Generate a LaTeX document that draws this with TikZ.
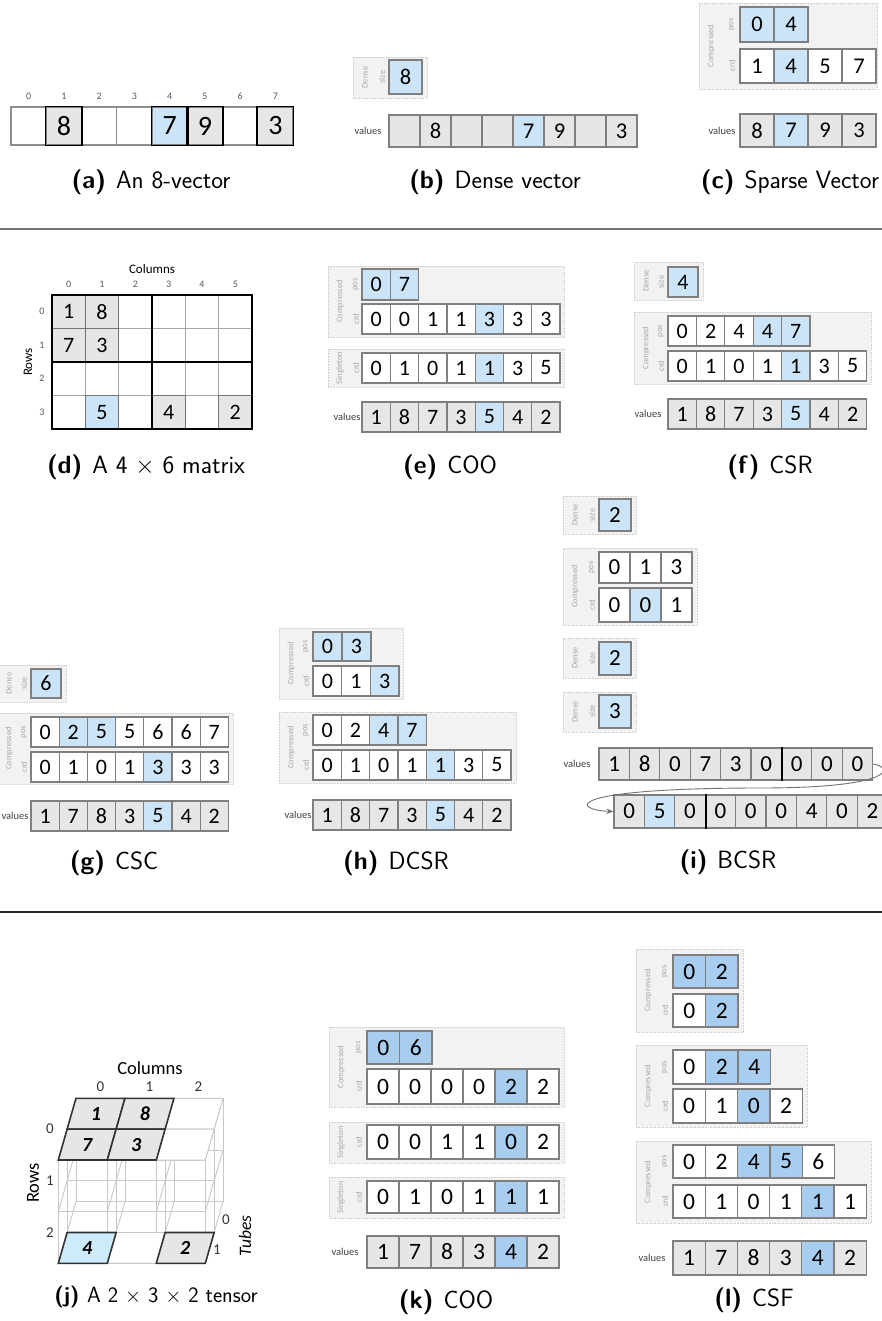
\documentclass[tikz,border=0pt]{standalone}
\usepackage{fontspec}
\setmainfont{Carlito}
\usepackage{tikz}
\usetikzlibrary{arrows.meta,calc}
\definecolor{cellfill}{HTML}{E6E6E6}
\definecolor{cellline}{HTML}{7F7F7F}
\definecolor{hilite}{HTML}{CCE4F7}
\definecolor{hilitedeep}{HTML}{A9CDEE}
\definecolor{tenblue}{HTML}{CDEBFA}
\definecolor{lvlfill}{HTML}{F2F2F2}
\definecolor{lvlline}{HTML}{CFCFCF}
\definecolor{lbl}{HTML}{A8A8A8}
\definecolor{wire}{HTML}{C8C8C8}
\newcommand{\csz}{21}
\tikzset{
  cellbase/.style={draw=cellline,line width=1.3pt,inner sep=0pt,
    font=\fontsize{\csz}{\csz}\selectfont},
  cz/.style={cellbase,fill=white},
  cg/.style={cellbase,fill=cellfill},
  cb/.style={cellbase,fill=hilite},
  cB/.style={cellbase,fill=hilitedeep},
  az/.style={cellbase,fill=white,draw=black!45},
  ag/.style={cellbase,fill=cellfill},
  ab/.style={cellbase,fill=hilite},
  akeep/.style={draw=black,line width=1.6pt},
  mcell/.style={cellbase,draw=black!55,line width=1pt},
  lvl/.style={draw=lvlline,densely dotted,fill=lvlfill,line width=0.6pt,inner sep=0pt},
  lvlname/.style={rotate=90,font=\fontsize{8.5}{10}\selectfont,text=lbl,inner sep=0pt},
  vlabel/.style={font=\fontsize{10.5}{12}\selectfont,text=black!75,inner sep=0pt},
  idx/.style={font=\fontsize{10}{11}\selectfont,text=black!65,inner sep=0pt},
  axis/.style={font=\fontsize{13}{14}\selectfont,inner sep=0pt},
  caption/.style={font=\sffamily\fontsize{25}{28}\selectfont,inner sep=0pt},
  sepline/.style={draw=black!55,line width=1.5pt},
  blockline/.style={draw=black,line width=2pt},
  wrap/.style={draw=black!55,line width=0.9pt,-{Stealth[length=7pt,width=5.5pt]}},
  wire/.style={draw=wire,line width=0.9pt},
  tw/.style={draw=wire,fill=white,line width=0.9pt},
  tg/.style={draw=black!80,fill=cellfill,line width=1.6pt},
  tb/.style={draw=black!80,fill=tenblue,line width=1.6pt},
  tnum/.style={font=\fontsize{20}{20}\selectfont\bfseries\itshape,inner sep=0pt},
  tlabel/.style={font=\fontsize{15}{17}\selectfont,text=black!80,inner sep=0pt},
  taxis/.style={font=\fontsize{18.5}{20}\selectfont,inner sep=0pt}
}
% one row of storage cells: name, left x, centre y, width, height, value/style list
\newcommand{\cellrow}[6]{%
  \foreach [count=\i] \val/\sty in {#6}
    \node[\sty,minimum width=#4pt,minimum height=#5pt] (#1\i) at ({#2+(\i-0.5)*#4},#3) {\val};
}
\newcommand{\lvlbox}[6]{%
  \node[lvl,minimum width={(#4-(#2))*1pt},minimum height={(#5-(#3))*1pt}] (#1) at ({(#2+#4)/2},{(#3+#5)/2}) {};
  \node[lvlname] (#1-t) at ({#2+12},{(#3+#5)/2}) {#6};
}
\newcommand{\fld}[4]{\node[lvlname] (#1) at (#2,#3) {#4};}

\begin{document}
\begin{tikzpicture}[x=1pt,y=-1pt]
\path[fill=white,use as bounding box] (0,0) rectangle (882,1321);

% (a)
\renewcommand{\csz}{28}
\cellrow{a}{11}{126}{35.25}{38}{{}/az,8/ag,{}/az,{}/az,7/ab,9/ag,{}/az,3/ag}
\foreach \i in {2,5,6,8} \draw[akeep] (a\i.south west) rectangle (a\i.north east);
\foreach \i in {0,...,7} \node[idx] (a-i\i) at ({11+(\i+0.5)*35.25},96) {\i};
\node[caption] (capa) at (151,182) {\textbf{(a)}\hspace{.4em}An 8-vector};

% (b)
\renewcommand{\csz}{22.5}
\lvlbox{b-d}{353}{57}{427}{98}{Dense}
\fld{b-ds}{382}{77}{size}
\cellrow{b-s}{389}{77}{33}{34}{8/cb}
\node[vlabel] (b-vl) at (368,131) {values};
\cellrow{b-v}{389}{131}{31}{32}{{}/cg,8/cg,{}/cg,{}/cg,7/cb,9/cg,{}/cg,3/cg}
\node[caption] (capb) at (495,182) {\textbf{(b)}\hspace{.4em}Dense vector};

% (c)
\lvlbox{c-c}{699}{3}{877}{89}{Compressed}
\fld{c-fp}{732}{24.5}{pos}
\fld{c-fc}{732}{66}{crd}
\cellrow{c-p}{740}{24.5}{34}{35}{0/cb,4/cb}
\cellrow{c-k}{740}{66}{34}{34}{1/cz,4/cb,5/cz,7/cz}
\node[vlabel] (c-vl) at (722,130.5) {values};
\cellrow{c-v}{740}{130.5}{34}{33}{8/cg,7/cb,9/cg,3/cg}
\node[caption] (capc) at (790,182) {\textbf{(c)}\hspace{.4em}Sparse Vector};

\draw[sepline] (0,229) -- (882,229);

% (d)
\renewcommand{\csz}{22}
\node[axis] (d-cols) at (152,269) {Columns};
\foreach \c in {0,...,5} \node[idx] (d-ci\c) at ({52+(\c+0.5)*33.33},284) {\c};
\foreach \r in {0,...,3} \node[idx] (d-ri\r) at (42,{295+(\r+0.5)*33.5}) {\r};
\node[axis,rotate=90] (d-rows) at (28,362) {Rows};
\foreach \c in {1,...,5} \draw[draw=black!35,line width=1pt] ({52+\c*33.33},295) -- ({52+\c*33.33},429);
\foreach \r in {1,...,3} \draw[draw=black!35,line width=1pt] (52,{295+\r*33.5}) -- (252,{295+\r*33.5});
\foreach \r/\c/\val/\sty in {0/0/1/cg,0/1/8/cg,1/0/7/cg,1/1/3/cg,3/1/5/cb,3/3/4/cg,3/5/2/cg}
  \node[\sty,mcell,minimum width=33.33pt,minimum height=33.5pt] (d\r\c) at ({52+(\c+0.5)*33.33},{295+(\r+0.5)*33.5}) {\val};
\draw[blockline] (52,295) rectangle (252,429);
\draw[blockline] (152,295) -- (152,429);
\draw[blockline] (52,362) -- (252,362);
\node[caption] (capd) at (146,467) {\textbf{(d)}\hspace{.4em}A 4 $\times$ 6 matrix};

% (e)
\lvlbox{e-c}{328}{266}{564}{337}{Compressed}
\fld{e-fp}{356}{284.5}{pos}
\fld{e-fc}{356}{319}{crd}
\cellrow{e-p}{362}{284.5}{28.3}{31}{0/cb,7/cb}
\cellrow{e-k}{362}{319}{28.3}{30}{0/cz,0/cz,1/cz,1/cz,3/cb,3/cz,3/cz}
\lvlbox{e-s}{328}{349}{564}{387}{Singleton}
\fld{e-fs}{356}{368}{crd}
\cellrow{e-q}{362}{368}{28.3}{30}{0/cz,1/cz,0/cz,1/cz,1/cb,3/cz,5/cz}
\node[vlabel] (e-vl) at (347,417) {values};
\cellrow{e-v}{362}{417}{28.3}{30}{1/cg,8/cg,7/cg,3/cg,5/cb,4/cg,2/cg}
\node[caption] (cape) at (450,467) {\textbf{(e)}\hspace{.4em}COO};

% (f)
\lvlbox{f-d}{634}{262}{703}{300}{Dense}
\fld{f-ds}{661}{282}{size}
\cellrow{f-s}{668}{282}{30}{30}{4/cb}
\lvlbox{f-c}{634}{312}{871}{384}{Compressed}
\fld{f-fp}{661}{331}{pos}
\fld{f-fc}{661}{366}{crd}
\cellrow{f-p}{668}{331}{28.4}{30}{0/cz,2/cz,4/cz,4/cb,7/cb}
\cellrow{f-k}{668}{366}{28.4}{30}{0/cz,1/cz,0/cz,1/cz,1/cb,3/cz,5/cz}
\node[vlabel] (f-vl) at (648,414) {values};
\cellrow{f-v}{668}{414}{28.4}{30}{1/cg,8/cg,7/cg,3/cg,5/cb,4/cg,2/cg}
\node[caption] (capf) at (770,467) {\textbf{(f)}\hspace{.4em}CSR};

% (g)
\lvlbox{g-d}{-3}{665}{66}{702}{Dense}
\fld{g-ds}{24}{683.5}{size}
\cellrow{g-s}{31}{683.5}{30}{29}{6/cb}
\lvlbox{g-c}{-3}{713}{233}{784}{Compressed}
\fld{g-fp}{24}{732}{pos}
\fld{g-fc}{24}{767}{crd}
\cellrow{g-p}{31}{732}{28.2}{30}{0/cz,2/cb,5/cb,5/cz,6/cz,6/cz,7/cz}
\cellrow{g-k}{31}{767}{28.2}{30}{0/cz,1/cz,0/cz,1/cz,3/cb,3/cz,3/cz}
\node[vlabel] (g-vl) at (15,816) {values};
\cellrow{g-v}{31}{816}{28.2}{30}{1/cg,7/cg,8/cg,3/cg,5/cb,4/cg,2/cg}
\node[caption] (capg) at (114,863) {\textbf{(g)}\hspace{.4em}CSC};

% (h)
\lvlbox{h-c1}{279}{628}{403}{699}{Compressed}
\fld{h-fp1}{306}{646.5}{pos}
\fld{h-fc1}{306}{681}{crd}
\cellrow{h-p}{313}{646.5}{29}{29}{0/cb,3/cb}
\cellrow{h-k}{313}{681}{28.7}{30}{0/cz,1/cz,3/cb}
\lvlbox{h-c2}{279}{712}{516}{783}{Compressed}
\fld{h-fp2}{306}{730}{pos}
\fld{h-fc2}{306}{765}{crd}
\cellrow{h-q}{313}{730}{28.3}{30}{0/cz,2/cz,4/cb,7/cb}
\cellrow{h-m}{313}{765}{28.3}{30}{0/cz,1/cz,0/cz,1/cz,1/cb,3/cz,5/cz}
\node[vlabel] (h-vl) at (298,815) {values};
\cellrow{h-v}{313}{815}{28.3}{30}{1/cg,8/cg,7/cg,3/cg,5/cb,4/cg,2/cg}
\node[caption] (caph) at (396,863) {\textbf{(h)}\hspace{.4em}DCSR};

% (i)
\renewcommand{\csz}{23}
\lvlbox{i-d1}{563}{496}{636}{534}{Dense}
\fld{i-ds1}{592}{515}{size}
\cellrow{i-s}{599}{515}{32}{32}{2/cb}
\lvlbox{i-c}{563}{548}{697}{625}{Compressed}
\fld{i-fp}{592}{567.5}{pos}
\fld{i-fc}{592}{605}{crd}
\cellrow{i-p}{599}{567.5}{31}{31}{0/cz,1/cz,3/cz}
\cellrow{i-k}{599}{605}{31}{34}{0/cz,0/cb,1/cz}
\lvlbox{i-d2}{563}{638}{636}{678}{Dense}
\fld{i-ds2}{592}{658.5}{size}
\cellrow{i-t}{599}{658.5}{32}{33}{2/cb}
\lvlbox{i-d3}{563}{692}{636}{732}{Dense}
\fld{i-ds3}{592}{711.5}{size}
\cellrow{i-u}{599}{711.5}{32}{33}{3/cb}
\node[vlabel] (i-vl) at (577,764) {values};
\cellrow{i-v}{599}{764}{30.4}{32}{1/cg,8/cg,0/cg,7/cg,3/cg,0/cg,0/cg,0/cg,0/cg}
\cellrow{i-w}{614}{811.5}{30.4}{33}{0/cg,5/cb,0/cg,0/cg,0/cg,0/cg,4/cg,0/cg,2/cg}
\draw[blockline] (i-v6.north east) -- (i-v6.south east);
\draw[blockline] (i-w3.north east) -- (i-w3.south east);
\draw[wrap] (i-v9.east) .. controls (895,768) and (892,788) .. (760,788)
  .. controls (560,788) and (572,810) .. (i-w1.west);
\node[caption] (capi) at (728,862) {\textbf{(i)}\hspace{.4em}BCSR};

\draw[sepline,draw=black!85] (0,912) -- (882,912);

% (j)
\foreach \c in {0,...,3} \foreach \d in {0,1,2} \foreach \r in {0,1,2}
  \coordinate (t\c\d\r) at ({58.3+49*\c+8.83*\d},{1160+51.67*\r-30.83*\d});
\foreach \r in {0,1,2} \foreach \d in {0,1,2} \draw[wire] (t0\d\r) -- (t3\d\r);
\foreach \r in {0,1,2} \foreach \c in {0,...,3} \draw[wire] (t\c0\r) -- (t\c2\r);
\foreach \c in {0,...,3} \foreach \d in {0,1,2} \draw[wire] (t\c\d0) -- (t\c\d2);
\foreach \c/\cc/\k/\kk/\r/\sty/\val in {2/3/1/2/0/tw/{},2/3/0/1/0/tw/{},0/1/1/2/0/tg/1,1/2/1/2/0/tg/8,
    0/1/0/1/0/tg/7,1/2/0/1/0/tg/3,1/2/0/1/2/tw/{},0/1/0/1/2/tb/4,2/3/0/1/2/tg/2} {
  \draw[\sty] (t\c\k\r) -- (t\cc\k\r) -- (t\cc\kk\r) -- (t\c\kk\r) -- cycle;
  \node[tnum] (j-\c\k\r) at ($(t\c\k\r)!0.5!(t\cc\kk\r)$) {\val};
}
\node[taxis] (j-cols) at (150,1068) {Columns};
\foreach \c in {0,1,2} \node[tlabel] (j-ci\c) at ({100.5+49*\c},1087) {\c};
\node[taxis,rotate=90] (j-rows) at (33,1183) {Rows};
\foreach \r in {0,1,2} \node[tlabel] (j-ri\r) at (50,{1129+51.67*\r}) {\r};
\node[tlabel] (j-t0) at (226,1220) {0};
\node[tlabel] (j-t1) at (217,1250) {1};
\node[taxis,rotate=90,font=\fontsize{17.5}{20}\selectfont\itshape] (j-tubes) at (245,1236) {Tubes};
\node[caption,font=\sffamily\fontsize{22}{26}\selectfont] (capj) at (156,1297) {\textbf{(j)}\hspace{.35em}A 2 $\times$ 3 $\times$ 2 tensor};

% (k)
\renewcommand{\csz}{23.5}
\lvlbox{k-c}{329}{1027}{564}{1107}{Compressed}
\fld{k-fp}{359}{1047.5}{pos}
\fld{k-fc}{359}{1086.5}{crd}
\cellrow{k-p}{367}{1047.5}{32.5}{33}{0/cB,6/cB}
\cellrow{k-k}{367}{1086.5}{32}{35}{0/cz,0/cz,0/cz,0/cz,2/cB,2/cz}
\lvlbox{k-s1}{329}{1122}{564}{1163}{Singleton}
\fld{k-fs1}{359}{1142}{crd}
\cellrow{k-q}{367}{1142}{32}{34}{0/cz,0/cz,1/cz,1/cz,0/cB,2/cz}
\lvlbox{k-s2}{329}{1177}{564}{1218}{Singleton}
\fld{k-fs2}{359}{1197}{crd}
\cellrow{k-m}{367}{1197}{32}{32}{0/cz,1/cz,0/cz,1/cz,1/cB,1/cz}
\node[vlabel] (k-vl) at (345,1252) {values};
\cellrow{k-v}{367}{1252}{32}{32}{1/cg,7/cg,8/cg,3/cg,4/cB,2/cg}
\node[caption] (capk) at (446,1302) {\textbf{(k)}\hspace{.4em}COO};

% (l)
\lvlbox{l-c1}{636}{949}{743}{1032}{Compressed}
\fld{l-fp1}{665}{971.5}{pos}
\fld{l-fc1}{665}{1010.5}{crd}
\cellrow{l-p}{673}{971.5}{32.5}{33}{0/cB,2/cB}
\cellrow{l-k}{673}{1010.5}{32.5}{33}{0/cz,2/cB}
\lvlbox{l-c2}{636}{1045}{807}{1127}{Compressed}
\fld{l-fp2}{665}{1067}{pos}
\fld{l-fc2}{665}{1106}{crd}
\cellrow{l-q}{673}{1067}{32.5}{34}{0/cz,2/cB,4/cB}
\cellrow{l-m}{673}{1106}{32.3}{34}{0/cz,1/cz,0/cB,2/cz}
\lvlbox{l-c3}{636}{1141}{871}{1223}{Compressed}
\fld{l-fp3}{665}{1161.5}{pos}
\fld{l-fc3}{665}{1201.5}{crd}
\cellrow{l-r}{673}{1161.5}{32.3}{33}{0/cz,2/cz,4/cB,5/cB,6/cz}
\cellrow{l-n}{673}{1201.5}{32.2}{33}{0/cz,1/cz,0/cz,1/cz,1/cB,1/cz}
\node[vlabel] (l-vl) at (652,1258) {values};
\cellrow{l-v}{673}{1258}{32.2}{34}{1/cg,7/cg,8/cg,3/cg,4/cB,2/cg}
\node[caption] (capl) at (754,1300) {\textbf{(l)}\hspace{.4em}CSF};
\end{tikzpicture}
\end{document}
